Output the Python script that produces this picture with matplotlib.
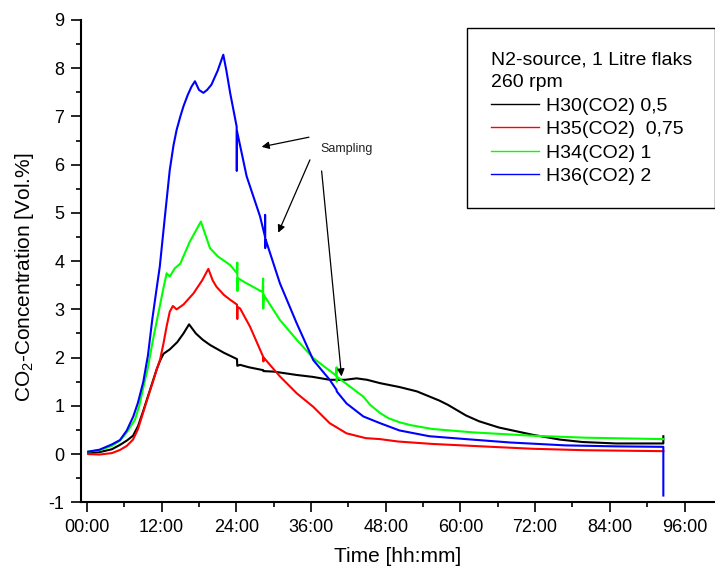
import matplotlib
matplotlib.use("Agg")
import matplotlib.pyplot as plt
from matplotlib.ticker import MultipleLocator

plt.rcParams['font.family'] = ['Liberation Sans', 'DejaVu Sans']
plt.rcParams['mathtext.fontset'] = 'custom'
plt.rcParams['mathtext.rm'] = 'Liberation Sans'
plt.rcParams['mathtext.default'] = 'regular'
plt.rcParams['axes.unicode_minus'] = False

# ---------------- data (time in hours, CO2 in Vol.%) ----------------
t_h30 = [0.2, 2, 4, 5.3, 6.4, 7.4, 8.2, 9.0, 9.8, 10.6, 11.2, 11.75, 12.3,
         13.3, 14.5, 15.5, 16.4, 17.5, 18.6, 19.8, 22, 24.1, 24.15, 24.6, 26,
         28.3, 28.35, 30, 33.7, 36.3, 39.0, 41.5, 43.3, 45, 47.1, 50.2, 53,
         56.6, 58, 60.9, 63, 66.2, 71.6, 76, 79.6, 85, 92.6, 92.6]
y_h30 = [0.02, 0.04, 0.1, 0.19, 0.28, 0.38, 0.58, 0.88, 1.2, 1.52, 1.76,
         1.94, 2.08, 2.17, 2.32, 2.5, 2.69, 2.5, 2.37, 2.26, 2.1, 1.97, 1.83,
         1.85, 1.8, 1.74, 1.72, 1.71, 1.64, 1.6, 1.54, 1.54, 1.57, 1.54, 1.47,
         1.39, 1.3, 1.11, 1.02, 0.8, 0.68, 0.55, 0.4, 0.3, 0.25, 0.22, 0.22,
         0.37]

t_h35 = [0.2, 2, 4, 5.3, 6.4, 7.4, 8.2, 9.0, 9.8, 10.6, 11.2, 11.75, 12.3,
         12.8, 13.3, 13.8, 14.4, 15.5, 17.1, 18.5, 19.5, 20.2, 20.8, 22, 23.0,
         24.1, 24.15, 24.2, 24.6, 26.2, 28.3, 28.35, 28.4, 31.0, 33.7, 36.35,
         39.0, 41.7, 44.8, 47.1, 50, 55.5, 65, 71.6, 80, 92.6]
y_h35 = [0.0, -0.01, 0.02, 0.085, 0.17, 0.3, 0.52, 0.85, 1.18, 1.5, 1.75,
         1.96, 2.3, 2.65, 2.95, 3.07, 3.0, 3.1, 3.33, 3.6, 3.84, 3.6, 3.47,
         3.3, 3.2, 3.1, 2.8, 3.05, 3.02, 2.64, 2.02, 1.92, 2.0, 1.61, 1.26,
         0.98, 0.64, 0.43, 0.33, 0.31, 0.26, 0.21, 0.15, 0.11, 0.08, 0.06]

t_h34 = [0.2, 2, 4, 5.3, 6.4, 7.7, 8.4, 9.0, 9.8, 10.5, 11.2, 11.75, 12.3,
         12.8, 13.3, 14.1, 15, 16.5, 18.3, 19.76, 21, 23.0, 24.1, 24.15, 24.17,
         24.2, 25.65, 28.2, 28.3, 28.32, 28.4, 31.0, 33.7, 36.35, 40.0, 40.1,
         40.12, 40.2, 44.4, 45.5, 47.1, 48.5, 50.2, 52, 55.5, 62, 71.6, 80,
         92.6]
y_h34 = [0.05, 0.08, 0.17, 0.28, 0.45, 0.71, 1.0, 1.35, 1.8, 2.3, 2.75, 3.1,
         3.45, 3.75, 3.68, 3.85, 3.95, 4.4, 4.82, 4.27, 4.1, 3.92, 3.75, 3.97,
         3.38, 3.65, 3.54, 3.36, 3.64, 3.02, 3.3, 2.78, 2.37, 1.99, 1.63, 1.8,
         1.5, 1.6, 1.19, 1.02, 0.85, 0.74, 0.66, 0.6, 0.52, 0.45, 0.38, 0.34,
         0.31]

t_h36 = [0.2, 2, 4, 5.3, 6.4, 7.44, 8.2, 9.05, 9.8, 10.5, 11.1, 11.7, 12.5,
         13.3, 13.9, 14.4, 15.0, 15.5, 16.2, 16.8, 17.35, 18.0, 18.7, 19.3,
         20.0, 21.0, 21.9, 22.4, 23.0, 24.05, 24.07, 24.1, 25.65, 27.8, 28.6,
         28.62, 28.64, 28.7, 31.0, 33.7, 36.35, 39.0, 40.1, 40.12, 41.7, 44.4,
         47.1, 50.2, 55, 60.9, 68, 76.9, 85, 92.6, 92.6]
y_h36 = [0.05, 0.09, 0.2, 0.29, 0.49, 0.78, 1.07, 1.5, 2.05, 2.8, 3.35, 3.89,
         4.9, 5.89, 6.4, 6.72, 7.0, 7.21, 7.45, 7.62, 7.73, 7.55, 7.49, 7.55,
         7.66, 7.95, 8.28, 7.95, 7.49, 6.79, 5.87, 6.7, 5.76, 4.93, 4.51, 4.96,
         4.27, 4.45, 3.54, 2.71, 1.95, 1.54, 1.33, 1.3, 1.05, 0.78, 0.64, 0.49,
         0.37, 0.31, 0.24, 0.18, 0.16, 0.15, -0.86]

series_labels = ['H30(CO2) 0,5', 'H35(CO2)  0,75', 'H34(CO2) 1', 'H36(CO2) 2']
series_colors = ['#000000', '#ff0000', '#00ff00', '#0000ff']
legend_title = 'N2-source, 1 Litre flaks\n260 rpm'

x_ticks = [0, 12, 24, 36, 48, 60, 72, 84, 96]
x_tick_labels = ['00:00', '12:00', '24:00', '36:00', '48:00', '60:00',
                 '72:00', '84:00', '96:00']
y_ticks = [-1, 0, 1, 2, 3, 4, 5, 6, 7, 8, 9]

# arrows: (start, end) in data coordinates
arrow_starts = [(35.66, 6.57), (35.82, 6.10), (37.7, 5.87)]
arrow_ends = [(28.06, 6.37), (30.73, 4.59), (40.9, 1.61)]
sampling_text_pos = (37.43, 6.33)

# ---------------- figure ----------------
fig = plt.figure(figsize=(7.15, 5.74), dpi=100)
ax = fig.add_axes([81 / 715, 1 - 502.3 / 574, 634 / 715, 482.3 / 574])

for t, y, c, lab in zip([t_h30, t_h35, t_h34, t_h36],
                        [y_h30, y_h35, y_h34, y_h36],
                        series_colors, series_labels):
    ax.plot(t, y, color=c, lw=1.5, label=lab)

ax.set_xlim(-0.96, 100.9)
ax.set_ylim(-1, 9)
ax.set_xticks(x_ticks)
ax.set_xticklabels(x_tick_labels)
ax.set_yticks(y_ticks)
ax.xaxis.set_minor_locator(MultipleLocator(6))
ax.yaxis.set_minor_locator(MultipleLocator(0.5))

for s in ['top', 'right']:
    ax.spines[s].set_visible(False)
for s in ['left', 'bottom']:
    ax.spines[s].set_linewidth(1.5)

ax.tick_params(axis='both', which='major', direction='out', length=7,
               width=1.2, labelsize=13, pad=5)
ax.tick_params(axis='both', which='minor', direction='out', length=3.5,
               width=1.2)

ax.set_xlabel('Time [hh:mm]', fontsize=15, labelpad=8)
ax.set_ylabel(r'CO$_{2}$-Concentration [Vol.%]', fontsize=15)
ax.yaxis.label.set_verticalalignment('center')
ax.yaxis.set_label_coords(-0.0891, 0.466)

for (xs, ys), (xe, ye) in zip(arrow_starts, arrow_ends):
    ax.annotate('', xy=(xe, ye), xytext=(xs, ys),
                arrowprops=dict(arrowstyle='-|>', color='black', lw=0.9,
                                mutation_scale=11, shrinkA=0, shrinkB=0))
ax.text(sampling_text_pos[0], sampling_text_pos[1], 'Sampling', fontsize=9,
        ha='left', va='center', color='#222222')

leg = ax.legend(title=legend_title, loc='upper left',
                bbox_to_anchor=(0.6093, 0.983), borderaxespad=0,
                fontsize=14, title_fontsize=14, frameon=True, fancybox=False,
                edgecolor='black', framealpha=1, borderpad=1.2,
                handlelength=2.5, handletextpad=0.33, labelspacing=0.3,
                alignment='left')
leg.get_title().set_linespacing(1.45)
leg.get_frame().set_linewidth(1.0)
for line in leg.get_lines():
    line.set_linewidth(1.0)

fig.savefig('out.png', dpi=100)
